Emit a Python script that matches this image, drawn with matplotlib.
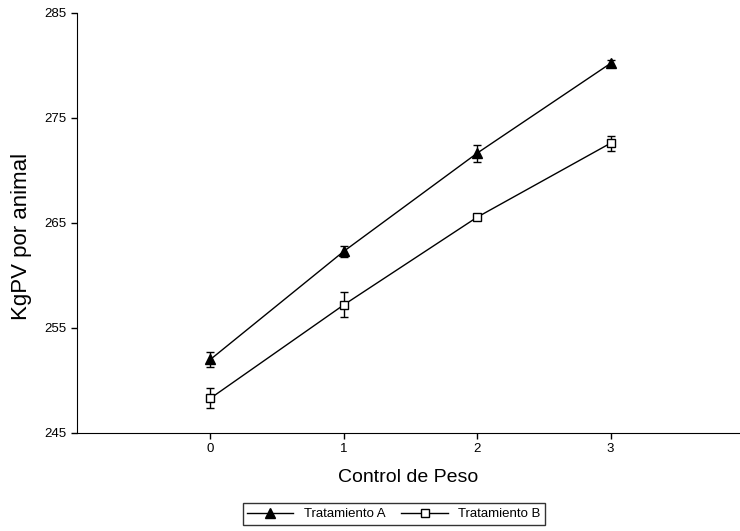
import matplotlib.pyplot as plt
from matplotlib.lines import Line2D

plt.rcParams['font.family'] = ['Liberation Sans', 'DejaVu Sans']

# Data
control = [0, 1, 2, 3]
trat_a = [252.0, 262.3, 271.65, 280.2]
err_a = [0.7, 0.55, 0.8, 0.3]
trat_b = [248.3, 257.2, 265.55, 272.6]
err_b = [0.95, 1.2, 0.2, 0.7]

fig = plt.figure(figsize=(7.4, 5.31), dpi=100)
ax = fig.add_axes([0.104, 0.1846, 0.896, 0.791])

ax.errorbar(control, trat_a, yerr=err_a, color='black', marker='^', markersize=7,
            markerfacecolor='black', linewidth=1, elinewidth=1, capsize=3)
ax.errorbar(control, trat_b, yerr=err_b, color='black', marker='s', markersize=6,
            markerfacecolor='white', linewidth=1, elinewidth=1, capsize=3)

ax.set_xlim(-1, 3.97)
ax.set_ylim(245, 285)
ax.set_xticks(control)
ax.set_yticks([245, 255, 265, 275, 285])
ax.tick_params(labelsize=9.5, length=4, width=1)
for s in ['top', 'right']:
    ax.spines[s].set_visible(False)

ax.set_xlabel('Control de Peso', fontsize=14, labelpad=10)
ax.set_ylabel('KgPV por animal', fontsize=16)
ax.yaxis.set_label_coords(-0.068, 0.469)

handles = [
    Line2D([], [], color='black', marker='^', markersize=7, markerfacecolor='black', linewidth=1),
    Line2D([], [], color='black', marker='s', markersize=6, markerfacecolor='white', linewidth=1),
]
leg = ax.legend(handles, ['Tratamiento A', 'Tratamiento B'], loc='center',
                bbox_to_anchor=(0.478, -0.193), ncol=2, fontsize=9.5,
                frameon=True, fancybox=False, edgecolor='black', handlelength=3.5,
                borderpad=0.35, columnspacing=1.2, numpoints=1)
leg.get_frame().set_linewidth(1)

plt.savefig('out.png')
